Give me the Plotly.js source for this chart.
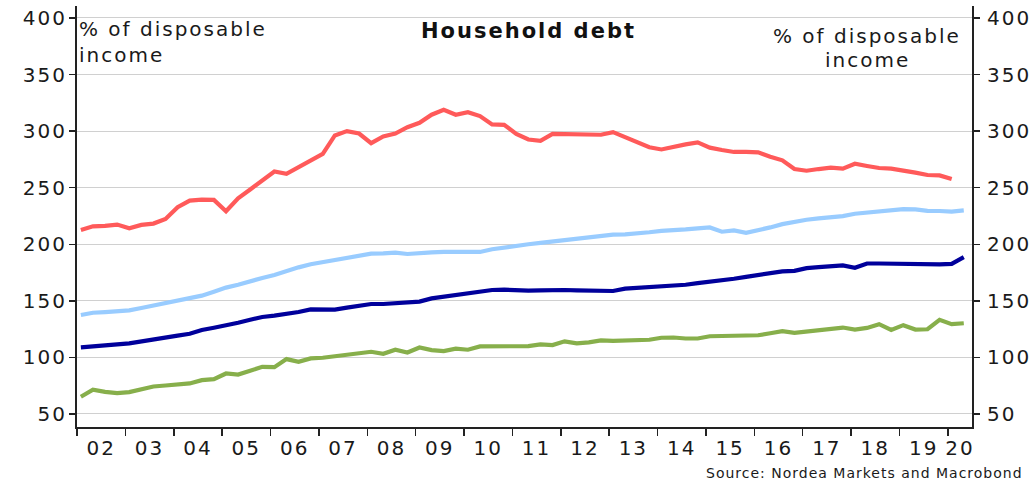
<!DOCTYPE html>
<html>
<head>
<meta charset="utf-8">
<script src="https://cdn.plot.ly/plotly-3.0.1.min.js"></script>
<style>
html,body{margin:0;padding:0;background:#fff;}
#chart{width:1031px;height:485px;}
#chart .main-svg text{letter-spacing:2px;}
#chart g.annotation[data-index="4"] text{letter-spacing:1px;}
</style>
</head>
<body>
<div id="chart"></div>
<script>
// Quarterly data, first quarter 2002 Q1
var startYear = 2002;
var yearLabels = ['02','03','04','05','06','07','08','09','10','11','12','13','14','15','16','17','18','19','20'];

var seriesRed = [212.7,215.9,216.2,217.4,214.2,217.1,218.3,222.4,232.7,238.6,239.5,239.2,229.2,240.7,248.4,256.9,264.3,262.2,268.1,274.6,279.9,296.2,300.0,297.9,289.4,
295.3,297.9,303.5,307.4,314.5,318.9,314.5,316.8,313.3,305.9,305.6,297.6,292.6,291.4,297.6,297.3,296.5,296.8,296.8,299.1,294.7,291.2,285.8,283.8,
286.3,288.3,290.1,285.4,283.3,281.6,281.6,281.3,277.4,274.2,266.5,265.0,266.5,267.7,266.8,271.2,269.2,267.4,266.8,265.3,263.3,261.2,260.9,257.7];

var seriesLightBlue = [137.5,139.5,140.1,140.4,141.6,143.7,145.7,148.1,150.4,152.5,154.6,158.1,161.7,164.3,167.6,170.2,172.9,176.7,179.6,182.3,184.1,185.8,187.9,189.7,191.7,
192.0,192.6,191.4,192.6,192.9,193.2,193.2,192.6,193.2,195.6,197.3,198.5,200.0,201.2,202.4,204.1,205.0,206.2,207.4,208.6,208.8,209.4,210.6,211.8,
212.2,213.1,214.0,214.9,211.1,212.2,210.2,212.2,214.9,217.8,220.2,221.7,222.9,223.7,224.9,227.0,227.9,229.6,230.5,231.1,230.8,229.6,229.4,228.8,229.9];

var seriesDarkBlue = [108.8,109.4,110.3,111.5,112.4,113.9,115.6,116.8,119.2,120.9,124.2,126.2,128.9,130.7,133.3,135.7,136.9,138.4,140.1,142.5,142.5,142.2,144.0,146.0,147.2,
147.2,147.8,148.4,149.3,152.2,153.7,155.5,156.6,158.4,159.6,159.9,159.3,159.0,159.3,159.9,159.6,159.3,159.0,158.7,158.7,160.8,161.4,162.0,162.5,
163.3,164.2,165.6,166.8,167.4,169.5,171.2,172.7,174.5,176.0,176.5,178.9,179.8,181.0,181.3,179.2,183.0,183.0,182.7,182.4,181.9,181.9,182.2,182.7,188.6];

var seriesGreen = [65.2,71.4,69.6,68.4,69.3,72.0,74.3,75.2,76.4,77.0,79.9,80.8,85.8,84.9,88.2,91.7,91.4,98.5,96.1,99.1,99.7,101.2,102.7,103.5,105.0,
103.2,106.8,104.4,108.8,106.5,105.6,107.7,106.8,109.7,109.7,109.4,109.4,110.0,111.5,110.9,114.2,112.4,113.3,115.0,114.7,114.7,115.0,115.6,117.4,
117.6,116.7,116.7,118.7,118.7,119.0,119.6,119.6,121.4,123.2,121.7,122.9,123.7,124.9,126.4,124.6,126.1,129.4,124.3,128.5,124.6,124.9,133.2,129.4,130.2];

var yTicks = [50,100,150,200,250,300,350,400];

function quarterX(n){ var a=[]; for(var i=0;i<n;i++){ a.push(startYear + 0.08 + 0.25*i); } return a; }

var yearTicks = [], yearMid = [];
for (var k=0;k<yearLabels.length;k++){ yearTicks.push(startYear+k); yearMid.push(startYear+k+0.5); }
yearMid[yearMid.length-1] = startYear + yearLabels.length - 1 + 0.25;

var FONT = 'DejaVu Sans, Verdana, sans-serif';
var TXT = '#1a1a1a';
var xRange = [2002, 2020.5];
var yRange = [38.5, 410.6];

function line(y, color){
  return {x: quarterX(y.length), y: y, type:'scatter', mode:'lines',
    line:{color:color, width:4.2}, hoverinfo:'skip', showlegend:false};
}

var data = [
  line(seriesGreen, '#87AF4B'),
  line(seriesDarkBlue, '#00009B'),
  line(seriesLightBlue, '#99CCFF'),
  line(seriesRed, '#FF5A5A'),
  {x:[2010], y:[null], xaxis:'x2', yaxis:'y2', type:'scatter', mode:'lines', showlegend:false, hoverinfo:'skip'}
];

var layout = {
  width:1031, height:485,
  margin:{l:77, r:59, t:6, b:58},
  paper_bgcolor:'#fff', plot_bgcolor:'#fff',
  font:{family:FONT, size:20, color:TXT},
  showlegend:false,
  xaxis:{range:xRange, tickmode:'array', tickvals:yearTicks, showticklabels:false,
    ticks:'outside', ticklen:7, tickwidth:1.5, tickcolor:'#222',
    showgrid:false, zeroline:false, showline:true, linecolor:'#222', linewidth:2, fixedrange:true},
  xaxis2:{range:xRange, overlaying:'x', anchor:'y', side:'bottom', tickmode:'array',
    tickvals:yearMid, ticktext:yearLabels, ticks:'', showgrid:false, zeroline:false, showline:false,
    tickfont:{family:FONT, size:20, color:TXT}, ticklabelstandoff:7, fixedrange:true},
  yaxis:{range:yRange, tickmode:'array', tickvals:yTicks, ticks:'outside', ticklen:6, tickwidth:1.5,
    tickcolor:'#222', showgrid:true, gridcolor:'#d0d0d0', gridwidth:1, zeroline:false,
    showline:true, linecolor:'#222', linewidth:2, tickfont:{family:FONT, size:20, color:TXT},
    ticklabelstandoff:-2, fixedrange:true},
  yaxis2:{range:yRange, overlaying:'y', side:'right', anchor:'x', tickmode:'array', tickvals:yTicks,
    ticks:'outside', ticklen:6, tickwidth:1.5, tickcolor:'#222', showgrid:false, zeroline:false,
    showline:true, linecolor:'#222', linewidth:2, tickfont:{family:FONT, size:20, color:TXT},
    ticklabelstandoff:3, fixedrange:true},
  annotations:[
    {text:'<b>Household debt</b>', xref:'paper', yref:'paper', x:0.3977, y:0.9406,
      xanchor:'left', yanchor:'middle', showarrow:false, font:{family:FONT, size:21, color:'#111'}},
    {text:'% of disposable<br>income', xref:'paper', yref:'paper', x:0.0, y:0.979,
      xanchor:'left', yanchor:'top', align:'left', showarrow:false, font:{family:FONT, size:20, color:TXT}},
    {text:'% of disposable', xref:'paper', yref:'paper', x:0.7922, y:0.9287,
      xanchor:'left', yanchor:'middle', showarrow:false, font:{family:FONT, size:20, color:TXT}},
    {text:'income', xref:'paper', yref:'paper', x:0.8403, y:0.8717,
      xanchor:'left', yanchor:'middle', showarrow:false, font:{family:FONT, size:20, color:TXT}},
    {text:'Source: Nordea Markets and Macrobond', xref:'paper', yref:'paper', x:0.7207, y:-0.1093,
      xanchor:'left', yanchor:'middle', showarrow:false, font:{family:FONT, size:14, color:TXT}}
  ]
};

Plotly.newPlot('chart', data, layout, {staticPlot:true, displayModeBar:false});
</script>
</body>
</html>
